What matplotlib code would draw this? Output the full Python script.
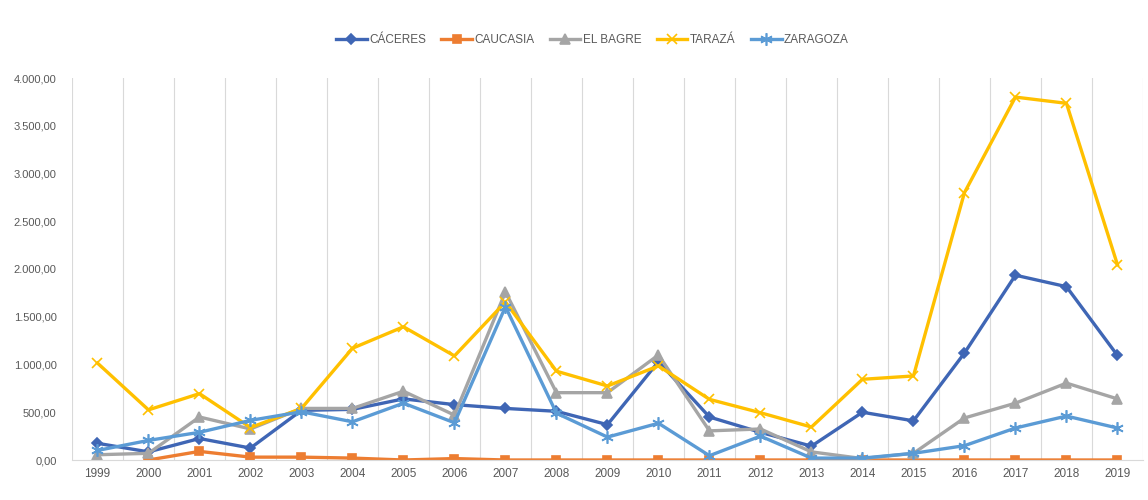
import numpy as np
import matplotlib.pyplot as plt
from matplotlib.ticker import FuncFormatter

plt.rcParams['font.family'] = ['Liberation Sans Narrow', 'Liberation Sans', 'DejaVu Sans']

years = list(range(1999, 2020))

caceres = [175, 85, 225, 125, 520, 530, 640, 580, 540, 510, 370, 1030, 450, 290, 145, 500, 410, 1120, 1935, 1815, 1095]
caucasia = [np.nan, 0, 90, 30, 30, 20, 0, 15, 0, 0, 0, 0, 0, 0, 0, 0, 0, 0, 0, 0, 0]
el_bagre = [55, 70, 450, 325, 540, 540, 720, 470, 1760, 705, 705, 1100, 305, 325, 85, 15, 70, 440, 595, 805, 640]
taraza = [1015, 525, 695, 340, 540, 1170, 1395, 1090, 1655, 930, 775, 985, 635, 495, 345, 845, 880, 2800, 3800, 3735, 2045]
zaragoza = [100, 205, 290, 415, 505, 400, 595, 390, 1605, 490, 240, 385, 45, 250, 20, 20, 70, 150, 335, 460, 335]

series = [
    ("CÁCERES", caceres, "#3F66B5", "D", 5),
    ("CAUCASIA", caucasia, "#ED7D31", "s", 6),
    ("EL BAGRE", el_bagre, "#A5A5A5", "^", 7),
    ("TARAZÁ", taraza, "#FFC000", "x", 7),
    ("ZARAGOZA", zaragoza, "#5B9BD5", (6, 2, 0), 9),
]

fig = plt.figure(figsize=(11.48, 5), dpi=100)
ax = fig.add_axes([0.0627, 0.08, 0.9329, 0.764])

x = np.arange(len(years))
for name, vals, col, mk, ms in series:
    ax.plot(x, vals, color=col, lw=2.4, marker=mk, markersize=ms,
            markeredgecolor=col, markeredgewidth=1.2, label=name)

ax.set_xlim(-0.5, len(years) - 0.5)
ax.set_ylim(0, 4000)
ax.set_xticks(x)
ax.set_xticklabels([str(y) for y in years])
ax.set_xticks(np.arange(-0.5, len(years)), minor=True)
ax.set_yticks(np.arange(0, 4001, 500))
ax.yaxis.set_major_formatter(FuncFormatter(
    lambda v, p: f"{v:,.2f}".replace(",", "X").replace(".", ",").replace("X", ".")))

ax.grid(False)
ax.grid(which="minor", axis="x", color="#D9D9D9", lw=0.8)
ax.tick_params(which="both", length=0)
ax.tick_params(axis="x", labelsize=8.5, colors="#595959", pad=6)
ax.tick_params(axis="y", labelsize=8, colors="#595959", pad=11)
for s in ["top", "right", "left"]:
    ax.spines[s].set_visible(False)
ax.spines["bottom"].set_color("#D9D9D9")

fig.legend(loc="upper center", bbox_to_anchor=(0.516, 0.953), ncol=5, frameon=False,
           fontsize=8.5, labelcolor="#595959", handlelength=2.6, columnspacing=1.3,
           handletextpad=0.2)

fig.savefig("out.png", dpi=100)
